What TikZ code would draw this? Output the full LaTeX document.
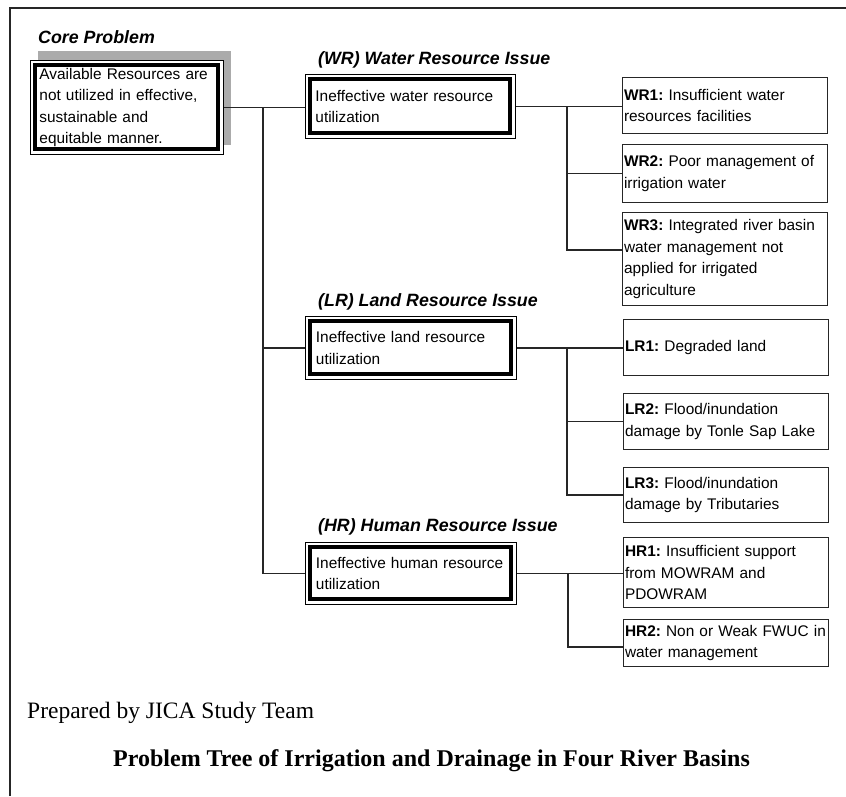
\documentclass[tikz,border=0pt]{standalone}
\usepackage{fontspec}
\setmainfont{Liberation Serif}
\newfontfamily\arialfam{Liberation Sans}
\frenchspacing
\begin{document}
\begin{tikzpicture}[x=1pt,y=-1pt]
\tikzset{
  boxtext/.style={font=\arialfam\fontsize{15.4}{21.5}\selectfont},
  heading/.style={font=\arialfam\bfseries\itshape\fontsize{17.8}{20}\selectfont, anchor=base west, inner sep=0pt},
  frameline/.style={line width=2pt, draw=black!85},
  link/.style={line width=1.3pt, draw=black!85},
  shadowfill/.style={fill=black!33},
  issue/.style={draw=black, line width=0.9pt, anchor=north west,
    minimum width=210pt, minimum height=64pt, inner xsep=10pt, inner ysep=0pt,
    text width=190pt, align=left, boxtext,
    path picture={\draw[line width=4pt]
      ([shift={(5pt,5pt)}]path picture bounding box.south west) rectangle
      ([shift={(-5pt,-5pt)}]path picture bounding box.north east);}},
  cause/.style={draw=black!85, line width=1.1pt, anchor=north west,
    minimum width=205pt, inner xsep=1.5pt, inner ysep=0pt,
    text width=202pt, align=left, boxtext},
  note/.style={anchor=base west, inner sep=0pt}
}
\useasboundingbox (0,0) rectangle (846,796);

% page frame (top and left edges)
\draw[frameline] (10,796) -- (10,8) -- (846,8);

% core problem
\node[heading] (corehead) at (38,43) {Core Problem};
\fill[shadowfill] (38,51) rectangle (231,145);
\node[issue, minimum width=193pt, minimum height=94pt, inner xsep=9pt, text width=175pt, fill=white]
  (core) at (30,60) {Available Resources are\\not utilized in effective,\\sustainable and\\equitable manner.};

% issue boxes
\node[heading] (wrhead) at (318,64) {(WR) Water Resource Issue};
\node[issue] (wr) at (305,74) {Ineffective water resource\\utilization};
\node[heading] (lrhead) at (318,306) {(LR) Land Resource Issue};
\node[issue, minimum width=211pt, minimum height=63pt] (lr) at (305,316) {Ineffective land resource\\utilization};
\node[heading] (hrhead) at (318,531) {(HR) Human Resource Issue};
\node[issue, minimum width=211pt, minimum height=62pt] (hr) at (305,542) {Ineffective human resource\\utilization};

% causes
\node[cause, minimum height=56pt] (wr1) at (622,77) {\textbf{WR1:} Insufficient water\\resources facilities};
\node[cause, minimum height=58pt] (wr2) at (622,144) {\textbf{WR2:} Poor management of\\irrigation water};
\node[cause, minimum height=93pt] (wr3) at (622,212) {\textbf{WR3:} Integrated river basin\\water management not\\applied for irrigated\\agriculture};
\node[cause, minimum height=56pt] (lr1) at (623,319) {\textbf{LR1:} Degraded land};
\node[cause, minimum height=56pt] (lr2) at (623,393) {\textbf{LR2:} Flood/inundation\\damage by Tonle Sap Lake};
\node[cause, minimum height=55pt] (lr3) at (623,467) {\textbf{LR3:} Flood/inundation\\damage by Tributaries};
\node[cause, minimum height=70pt] (hr1) at (623,537) {\textbf{HR1:} Insufficient support\\from MOWRAM and\\PDOWRAM};
\node[cause, minimum height=47pt] (hr2) at (623,619) {\textbf{HR2:} Non or Weak FWUC in\\water management};

% connector guides
\coordinate (tx) at (263,0);
\coordinate (wrx) at (567,0);
\coordinate (lrx) at (567,0);
\coordinate (hrx) at (568,0);
\coordinate (wr3in) at (622,250);
\coordinate (hr2in) at (623,647);

% trunk
\draw[link] (core.east) -- (core.east -| wr.west);
\draw[link] (tx |- core.east) |- (hr.west);
\draw[link] (tx |- lr.west) -- (lr.west);

% water branch
\draw[link] (wr.east) -- (wrx |- wr.east) |- (wr3in);
\draw[link] (wrx |- wr.east) -- (wr1.west |- wr.east);
\draw[link] (wrx |- wr2.west) -- (wr2.west);

% land branch
\draw[link] (lr.east) -- (lrx |- lr.east) |- (lr3.west);
\draw[link] (lrx |- lr.east) -- (lr1.west |- lr.east);
\draw[link] (lrx |- lr2.west) -- (lr2.west);

% human branch
\draw[link] (hr.east) -- (hrx |- hr.east) |- (hr2in);
\draw[link] (hrx |- hr.east) -- (hr1.west |- hr.east);

% notes
\node[note, font=\fontsize{23.5}{28}\selectfont] (prep) at (27,718) {Prepared by JICA Study Team};
\node[note, font=\bfseries\fontsize{24}{28}\selectfont] (caption) at (113,766) {Problem Tree of Irrigation and Drainage in Four River Basins};
\end{tikzpicture}
\end{document}
